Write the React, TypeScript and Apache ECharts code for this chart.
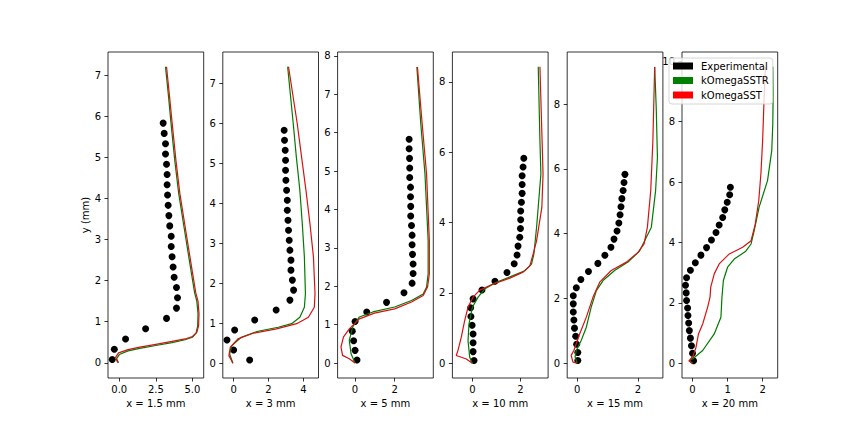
import React, { useEffect, useRef } from 'react';
import * as echarts from 'echarts';

const FONT = 'DejaVu Sans';

const panelTitles = ['x = 1.5 mm', 'x = 3 mm', 'x = 5 mm', 'x = 10 mm', 'x = 15 mm', 'x = 20 mm'];
const seriesNames = ['Experimental', 'kOmegaSSTR', 'kOmegaSST'];
const seriesColors = ['#000000', '#008000', '#ff0000'];
const lineColors = ['#000000', '#007a00', '#d81010'];

const xRanges = [[-0.77, 5.77], [-0.62, 4.87], [-0.88, 3.95], [-0.83, 3.15], [-0.33, 2.82], [-0.3, 2.43]];
const yRanges = [[-0.37, 7.56], [-0.37, 7.79], [-0.39, 8.1], [-0.42, 8.85], [-0.46, 9.61], [-0.49, 10.31]];
const xTicks = [[0, 2.5, 5], [0, 2, 4], [0, 2], [0, 2], [0, 2], [0, 1, 2]];
const yTicks = [
  [0, 1, 2, 3, 4, 5, 6, 7],
  [0, 1, 2, 3, 4, 5, 6, 7],
  [0, 1, 2, 3, 4, 5, 6, 7, 8],
  [0, 2, 4, 6, 8],
  [0, 2, 4, 6, 8],
  [0, 2, 4, 6, 8, 10],
];
const xTickDecimals = [1, 0, 0, 0, 0, 0];

// Experimental: shared y positions, x per station
const expY = [0.08, 0.33, 0.58, 0.83, 1.08, 1.33, 1.58, 1.83, 2.08, 2.33, 2.58, 2.83, 3.08, 3.33, 3.58, 3.83, 4.08, 4.33, 4.58, 4.83, 5.08, 5.33, 5.58, 5.83];
const expX1 = [-0.48, -0.34, 0.43, 1.8, 3.23, 3.91, 3.98, 3.91, 3.75, 3.68, 3.61, 3.55, 3.55, 3.45, 3.39, 3.34, 3.3, 3.27, 3.27, 3.23, 3.16, 3.16, 3.07, 3.0];
const expX2 = [0.92, 0.0, -0.38, 0.06, 1.21, 2.44, 3.23, 3.44, 3.37, 3.29, 3.29, 3.23, 3.19, 3.15, 3.12, 3.08, 3.08, 3.04, 3.0, 2.98, 2.98, 2.96, 2.92, 2.9];
const expX3 = [0.1, 0.0, -0.07, -0.14, 0.0, 0.59, 1.59, 2.47, 2.88, 2.93, 2.93, 2.9, 2.88, 2.88, 2.85, 2.81, 2.81, 2.8, 2.8, 2.76, 2.76, 2.75, 2.73, 2.73];
const expX4 = [0.07, 0.03, 0.03, 0.03, -0.01, -0.06, -0.07, 0.03, 0.4, 0.94, 1.44, 1.74, 1.86, 1.9, 1.97, 2.0, 2.01, 2.01, 2.04, 2.07, 2.07, 2.07, 2.11, 2.14];
const expX5 = [0.02, 0.02, -0.02, -0.05, -0.09, -0.11, -0.13, -0.13, -0.13, -0.03, 0.12, 0.37, 0.68, 0.91, 1.11, 1.21, 1.31, 1.37, 1.41, 1.44, 1.47, 1.51, 1.54, 1.57];
const expX6 = [0.03, 0.0, -0.03, -0.06, -0.09, -0.11, -0.13, -0.14, -0.17, -0.18, -0.2, -0.17, -0.06, 0.08, 0.24, 0.4, 0.54, 0.67, 0.76, 0.86, 0.92, 0.99, 1.06, 1.08];
const expX = [expX1, expX2, expX3, expX4, expX5, expX6];

// kOmegaSSTR profiles [x, y]
const sstr1 = [[-0.05, 0], [-0.18, 0.1], [0.0, 0.2], [0.6, 0.29], [1.4, 0.35], [2.5, 0.42], [3.6, 0.49], [4.5, 0.56], [5.0, 0.62], [5.25, 0.72], [5.36, 0.9], [5.38, 1.2], [5.3, 1.5], [5.15, 1.7], [4.92, 2.2], [4.47, 3.2], [4.06, 4.12], [3.8, 4.9], [3.56, 5.74], [3.36, 6.5], [3.16, 7.2]];
const sstr2 = [[-0.04, 0], [-0.23, 0.23], [-0.1, 0.44], [0.44, 0.65], [1.4, 0.8], [2.56, 0.9], [3.33, 0.99], [3.8, 1.15], [4.06, 1.4], [4.12, 1.74], [4.06, 2.66], [3.94, 3.49], [3.8, 4.33], [3.6, 5.16], [3.42, 6.0], [3.1, 7.42]];
const sstr3 = [[0, 0], [-0.2, 0.24], [-0.29, 0.59], [-0.12, 0.94], [0.22, 1.2], [0.9, 1.33], [2.0, 1.46], [2.85, 1.63], [3.44, 1.8], [3.61, 1.98], [3.69, 2.32], [3.69, 3.19], [3.53, 4.92], [3.32, 6.22], [3.12, 7.71]];
const sstr4 = [[0, 0], [-0.11, 0.17], [-0.18, 0.64], [-0.14, 1.12], [0, 1.59], [0.24, 1.88], [0.51, 2.11], [1.0, 2.3], [1.69, 2.49], [2.18, 2.63], [2.46, 2.82], [2.56, 3.11], [2.67, 3.86], [2.85, 5.38], [2.81, 6.33], [2.74, 8.43]];
const sstr5 = [[0, 0], [-0.07, 0.19], [-0.03, 0.39], [0.13, 0.7], [0.3, 1.11], [0.46, 1.73], [0.63, 2.24], [0.85, 2.55], [1.23, 2.86], [1.67, 3.12], [2.05, 3.46], [2.22, 3.78], [2.44, 4.2], [2.58, 5.33], [2.64, 6.35], [2.6, 7.9], [2.55, 9.15]];
const sstr6 = [[0, 0], [-0.1, 0.09], [0, 0.14], [0.29, 0.42], [0.62, 0.97], [0.81, 1.52], [0.84, 2.19], [0.88, 2.74], [1.0, 3.18], [1.19, 3.45], [1.52, 3.71], [1.67, 3.95], [1.76, 4.39], [1.9, 5.17], [2.14, 6.05], [2.26, 7.04], [2.29, 7.92], [2.3, 8.92], [2.29, 9.82]];
const sstr = [sstr1, sstr2, sstr3, sstr4, sstr5, sstr6];

// kOmegaSST profiles [x, y]
const sst1 = [[-0.1, 0], [-0.25, 0.13], [-0.05, 0.24], [0.6, 0.32], [1.4, 0.38], [2.5, 0.45], [3.6, 0.52], [4.5, 0.58], [5.0, 0.64], [5.3, 0.74], [5.42, 0.9], [5.45, 1.2], [5.38, 1.5], [5.23, 1.7], [5.0, 2.2], [4.55, 3.2], [4.14, 4.12], [3.88, 4.9], [3.64, 5.74], [3.43, 6.5], [3.23, 7.2]];
const sst2 = [[-0.04, 0], [-0.27, 0.19], [-0.19, 0.4], [0.25, 0.61], [1.12, 0.75], [2.46, 0.86], [3.62, 0.99], [4.29, 1.15], [4.63, 1.4], [4.67, 1.74], [4.58, 2.66], [4.38, 3.49], [4.15, 4.33], [3.9, 5.16], [3.65, 6.0], [3.15, 7.42]];
const sst3 = [[0, 0], [-0.29, 0.11], [-0.63, 0.2], [-0.71, 0.42], [-0.58, 0.68], [-0.29, 0.89], [0.22, 1.15], [0.98, 1.3], [2.0, 1.41], [2.85, 1.59], [3.44, 1.76], [3.66, 1.98], [3.75, 2.32], [3.75, 3.19], [3.61, 4.92], [3.39, 6.22], [3.15, 7.71]];
const sst4 = [[0, 0], [-0.25, 0.12], [-0.67, 0.22], [-0.6, 0.36], [-0.46, 0.74], [-0.32, 1.21], [-0.18, 1.59], [0.03, 1.88], [0.31, 2.08], [0.79, 2.23], [1.56, 2.42], [2.11, 2.59], [2.39, 2.77], [2.53, 3.11], [2.67, 3.48], [2.89, 4.43], [2.94, 5.38], [2.9, 6.33], [2.81, 8.43]];
const sst5 = [[0, 0], [-0.14, 0.03], [-0.2, 0.24], [-0.11, 0.39], [0.08, 0.9], [0.3, 1.42], [0.52, 2.04], [0.74, 2.5], [1.12, 2.86], [1.62, 3.12], [2.0, 3.42], [2.2, 3.68], [2.31, 4.2], [2.42, 5.33], [2.49, 6.87], [2.53, 8.41], [2.55, 9.15]];
const sst6 = [[0, 0], [-0.1, 0.07], [0.02, 0.25], [0.1, 0.53], [0.17, 0.97], [0.29, 1.3], [0.43, 1.85], [0.5, 2.19], [0.52, 2.52], [0.62, 2.96], [0.76, 3.29], [1.05, 3.62], [1.43, 3.84], [1.67, 4.06], [1.79, 4.61], [1.89, 5.39], [1.95, 6.27], [2.0, 7.37], [2.05, 9.03], [2.08, 9.82]];
const sst = [sst1, sst2, sst3, sst4, sst5, sst6];

export default function App() {
  const ref = useRef<HTMLDivElement>(null);

  useEffect(() => {
    if (!ref.current) return;
    const chart = echarts.init(ref.current, undefined, { renderer: 'svg' });

    const tickStyle = { color: '#000', width: 0.8 };
    const labelBase = { fontSize: 10, color: '#000', fontFamily: FONT };

    const grid = panelTitles.map((_, i) => ({
      left: 108 + i * 114.8,
      top: 52,
      width: 95.7,
      height: 326,
      show: true,
      borderColor: '#000',
      borderWidth: 0.8,
      backgroundColor: 'transparent',
      containLabel: false,
      outerBoundsMode: 'none',
    }));

    const xAxis = panelTitles.map((title, i) => ({
      type: 'value',
      gridIndex: i,
      min: xRanges[i][0],
      max: xRanges[i][1],
      name: title,
      nameLocation: 'middle',
      nameGap: 19,
      nameTextStyle: { ...labelBase },
      axisLine: { show: false, onZero: false },
      splitLine: { show: false },
      axisTick: { show: true, inside: false, length: 3.5, lineStyle: tickStyle, customValues: xTicks[i] },
      axisLabel: {
        ...labelBase,
        margin: 6,
        customValues: xTicks[i],
        formatter: (v: number) => v.toFixed(xTickDecimals[i]),
      },
    }));

    const yAxis = panelTitles.map((_, i) => ({
      type: 'value',
      gridIndex: i,
      min: yRanges[i][0],
      max: yRanges[i][1],
      name: i === 0 ? 'y (mm)' : '',
      nameLocation: 'middle',
      nameGap: 17,
      nameTextStyle: { ...labelBase },
      axisLine: { show: false, onZero: false },
      splitLine: { show: false },
      axisTick: { show: true, inside: false, length: 3.5, lineStyle: tickStyle, customValues: yTicks[i] },
      axisLabel: {
        ...labelBase,
        margin: 7,
        customValues: yTicks[i],
        formatter: (v: number) => String(Math.round(v)),
      },
    }));

    const series: any[] = [];
    panelTitles.forEach((_, i) => {
      series.push({
        type: 'scatter',
        name: seriesNames[0],
        xAxisIndex: i,
        yAxisIndex: i,
        data: expX[i].map((x, k) => [x, expY[k]]),
        symbol: 'circle',
        symbolSize: 7,
        itemStyle: { color: seriesColors[0], opacity: 1 },
        z: 2,
        silent: true,
      });
      series.push({
        type: 'line',
        name: seriesNames[1],
        xAxisIndex: i,
        yAxisIndex: i,
        data: sstr[i],
        showSymbol: false,
        symbol: 'none',
        lineStyle: { color: lineColors[1], width: 1.2 },
        itemStyle: { color: seriesColors[1] },
        z: 3,
        silent: true,
      });
      series.push({
        type: 'line',
        name: seriesNames[2],
        xAxisIndex: i,
        yAxisIndex: i,
        data: sst[i],
        showSymbol: false,
        symbol: 'none',
        lineStyle: { color: lineColors[2], width: 1.2 },
        itemStyle: { color: seriesColors[2] },
        z: 4,
        silent: true,
      });
    });

    chart.setOption({
      animation: false,
      backgroundColor: '#ffffff',
      textStyle: { fontFamily: FONT },
      grid,
      xAxis,
      yAxis,
      legend: {
        data: seriesNames,
        orient: 'vertical',
        left: 669,
        top: 58,
        icon: 'rect',
        itemWidth: 20,
        itemHeight: 7,
        itemGap: 2.5,
        padding: [2, 4, 3, 4],
        backgroundColor: 'rgba(255,255,255,0.8)',
        borderColor: '#cccccc',
        borderWidth: 0.8,
        borderRadius: 3,
        selectedMode: false,
        itemStyle: { borderWidth: 0, opacity: 1 },
        textStyle: { ...labelBase, lineHeight: 12, padding: [0, 0, 0, 3] },
        z: 10,
      },
      series,
    });

    return () => {
      chart.dispose();
    };
  }, []);

  return (
    <div
      ref={ref}
      style={{ position: 'fixed', left: 0, top: 0, width: 864, height: 432, background: '#fff' }}
    />
  );
}
